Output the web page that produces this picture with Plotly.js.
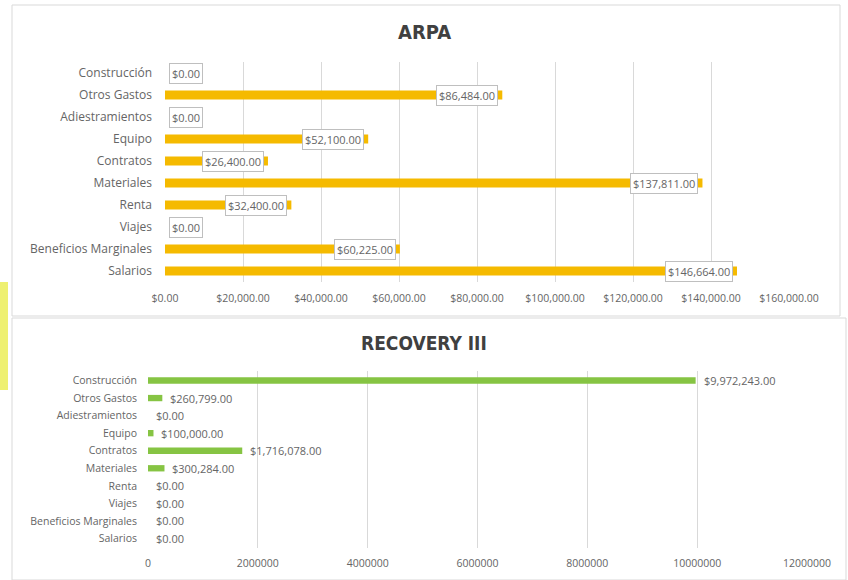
<!DOCTYPE html>
<html><head><meta charset="utf-8">
<script src="https://cdn.plot.ly/plotly-3.0.1.min.js"></script>
<style>html,body{margin:0;padding:0;background:#fff;}#chart{width:848px;height:580px;}</style>
</head><body><div id="chart"></div>
<script>
const categories = ["Construcción","Otros Gastos","Adiestramientos","Equipo","Contratos","Materiales","Renta","Viajes","Beneficios Marginales","Salarios"];
const arpaValues = [0, 86484, 0, 52100, 26400, 137811, 32400, 0, 60225, 146664];
const recoveryValues = [9972243, 260799, 0, 100000, 1716078, 300284, 0, 0, 0, 0];
const arpaTicks = [0,20000,40000,60000,80000,100000,120000,140000,160000];
const recoveryTicks = [0,2000000,4000000,6000000,8000000,10000000,12000000];

const fmt = v => '$' + v.toLocaleString('en-US',{minimumFractionDigits:2,maximumFractionDigits:2});
const FONT = "Open Sans, Lato, sans-serif";
const GREY = '#656565';

const traces = [
  {type:'bar', orientation:'h', x:arpaValues, y:categories, xaxis:'x', yaxis:'y',
   marker:{color:'#F5BA00'}, width:0.42, hoverinfo:'none'},
  {type:'bar', orientation:'h', x:recoveryValues, y:categories, xaxis:'x2', yaxis:'y2',
   marker:{color:'#86C443'}, width:0.36, hoverinfo:'none'}
];

const annotations = [];
arpaValues.forEach((v,i)=>{
  annotations.push({xref:'x', yref:'y', x:v, y:categories[i], text:fmt(v), showarrow:false,
    xanchor: v>0 ? 'right':'left', xshift: v>0 ? -4 : 4,
    font:{family:FONT, size:11, color:GREY}, bgcolor:'#ffffff', bordercolor:'#bfbfbf', borderwidth:1, borderpad:2});
});
recoveryValues.forEach((v,i)=>{
  annotations.push({xref:'x2', yref:'y2', x:v, y:categories[i], text:fmt(v), showarrow:false,
    xanchor:'left', xshift:6, font:{family:FONT, size:11, color:GREY}});
});
annotations.push({xref:'paper', yref:'paper', x:0.5, y:1-32/580, yanchor:'middle', text:'<b>ARPA</b>', showarrow:false,
  font:{family:'DejaVu Sans Condensed, DejaVu Sans, sans-serif', size:20, color:'#404040'}});
annotations.push({xref:'paper', yref:'paper', x:0.5, y:1-343/580, yanchor:'middle', text:'<b>RECOVERY III</b>', showarrow:false,
  font:{family:'DejaVu Sans Condensed, DejaVu Sans, sans-serif', size:19, color:'#404040'}});

const layout = {
  width:848, height:580, margin:{l:0,r:0,t:0,b:0}, showlegend:false,
  paper_bgcolor:'#ffffff', plot_bgcolor:'rgba(0,0,0,0)',
  xaxis:{domain:[165/848, 789/848], range:[0,160000], tickvals:arpaTicks, tickformat:'$,.2f',
    showgrid:true, gridcolor:'#d9d9d9', zeroline:false, showline:false, ticks:'',
    tickfont:{family:FONT, size:10.5, color:GREY}, anchor:'y', ticklabelstandoff:8, fixedrange:true},
  yaxis:{domain:[1-282/580, 1-62/580], autorange:'reversed', ticks:'', showgrid:false, zeroline:false,
    tickfont:{family:FONT, size:12, color:GREY}, anchor:'x', ticklabelstandoff:12, fixedrange:true},
  xaxis2:{domain:[148/848, 807/848], range:[0,12000000], tickvals:recoveryTicks, tickformat:'d',
    showgrid:true, gridcolor:'#d9d9d9', zeroline:false, showline:false, ticks:'',
    tickfont:{family:FONT, size:10.5, color:GREY}, anchor:'y2', ticklabelstandoff:7, fixedrange:true},
  yaxis2:{domain:[1-548/580, 1-371/580], autorange:'reversed', ticks:'', showgrid:false, zeroline:false,
    tickfont:{family:FONT, size:10.5, color:GREY}, anchor:'x2', ticklabelstandoff:10, fixedrange:true},
  annotations: annotations,
  shapes:[
    {type:'rect', xref:'paper', yref:'paper', x0:12/848, x1:840/848, y0:1-316/580, y1:1-5/580,
     line:{color:'#d9d9d9', width:1}, layer:'below'},
    {type:'rect', xref:'paper', yref:'paper', x0:12/848, x1:846/848, y0:0, y1:1-318/580,
     line:{color:'#d9d9d9', width:1}, layer:'below'},
    {type:'rect', xref:'paper', yref:'paper', x0:0, x1:8/848, y0:1-390/580, y1:1-282/580,
     line:{width:0}, fillcolor:'#EEF070', layer:'below'}
  ]
};
Plotly.newPlot('chart', traces, layout, {displayModeBar:false, staticPlot:true});
</script></body></html>
